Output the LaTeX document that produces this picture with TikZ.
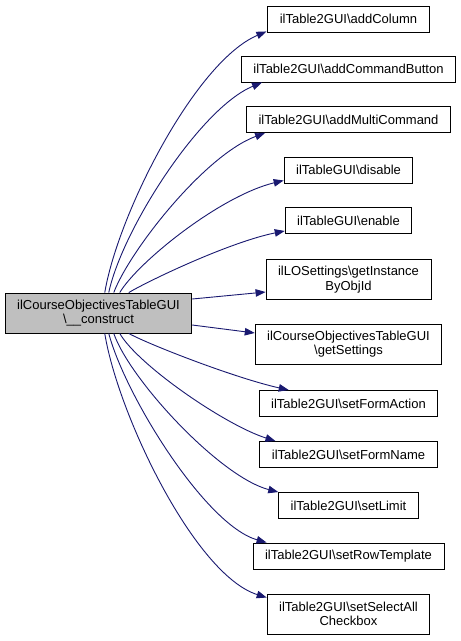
\documentclass[tikz,border=0pt]{standalone}
\usepackage{fontspec}
\setmainfont{Liberation Sans}
\usetikzlibrary{arrows.meta,calc}
\definecolor{edgeblue}{RGB}{25,25,112}
\definecolor{srcgray}{RGB}{191,191,191}
\tikzset{
  fn/.style={draw=black,line width=0.9pt,fill=white,inner xsep=12pt,inner ysep=0pt,
    minimum height=26pt,align=center,font=\fontsize{13}{14.5}\selectfont},
  fntwo/.style={fn,minimum height=40pt},
  src/.style={fntwo,fill=srcgray},
  call/.style={draw=edgeblue,line width=0.9pt,-{Triangle[length=10pt,width=7.5pt]}}
}
\begin{document}
\begin{tikzpicture}[x=1pt,y=-1pt]
\useasboundingbox (0,0) rectangle (461,641);
\node[src] (L) at (98.5,313) {ilCourseObjectivesTableGUI\\\textbackslash\_\_construct};
\node[fn] (c1) at (348.5,19) {ilTable2GUI\textbackslash addColumn};
\node[fn] (c2) at (348.5,69) {ilTable2GUI\textbackslash addCommandButton};
\node[fn] (c3) at (348.5,119.5) {ilTable2GUI\textbackslash addMultiCommand};
\node[fn] (c4) at (348.5,170) {ilTableGUI\textbackslash disable};
\node[fn] (c5) at (348.5,220.5) {ilTableGUI\textbackslash enable};
\node[fntwo] (c6) at (348.5,279.5) {ilLOSettings\textbackslash getInstance\\ByObjId};
\node[fntwo] (c7) at (348.5,344) {ilCourseObjectivesTableGUI\\\textbackslash getSettings};
\node[fn] (c8) at (348.5,403.5) {ilTable2GUI\textbackslash setFormAction};
\node[fn] (c9) at (348.5,454.5) {ilTable2GUI\textbackslash setFormName};
\node[fn] (c10) at (348.5,505.5) {ilTable2GUI\textbackslash setLimit};
\node[fn] (c11) at (348.5,556) {ilTable2GUI\textbackslash setRowTemplate};
\node[fntwo] (c12) at (348.5,614) {ilTable2GUI\textbackslash setSelectAll\\Checkbox};
% top edges
\draw[call] ($(L.north west)+(100,0)$) .. controls (118,214) and (195,62) .. ($(c1.south west)+(-1,-1)$);
\draw[call] ($(L.north west)+(104,0)$) .. controls (122,230) and (200,108) .. ($(c2.south west)+(21,0)$);
\draw[call] ($(L.north west)+(109,0)$) .. controls (130,250) and (205,155) .. ($(c3.south west)+(19,0)$);
\draw[call] ($(L.north west)+(115,0)$) .. controls (138,262) and (220,196) .. ($(c4.south west)+(0,-3)$);
\draw[call] ($(L.north west)+(124,0)$) .. controls (150,280) and (230,242) .. ($(c5.south west)+(0,-3)$);
% side edges
\draw[call] ($(L.east)+(0,-14)$) -- ($(c6.west)+(0,12.5)$);
\draw[call] ($(L.east)+(0,12)$) -- ($(c7.west)+(0,-11)$);
% bottom edges
\draw[call] ($(L.south west)+(124,0)$) .. controls (150,345) and (235,378) .. ($(c8.north west)+(30,0)$);
\draw[call] ($(L.south west)+(115,0)$) .. controls (138,365) and (225,425) .. ($(c9.north west)+(16,0)$);
\draw[call] ($(L.south west)+(109,0)$) .. controls (130,380) and (220,477) .. (c10.north west);
\draw[call] ($(L.south west)+(104,0)$) .. controls (125,395) and (205,525) .. ($(c11.north west)+(14,0)$);
\draw[call] ($(L.south west)+(100,0)$) .. controls (118,415) and (195,575) .. ($(c12.north west)+(0,4)$);
\end{tikzpicture}
\end{document}
